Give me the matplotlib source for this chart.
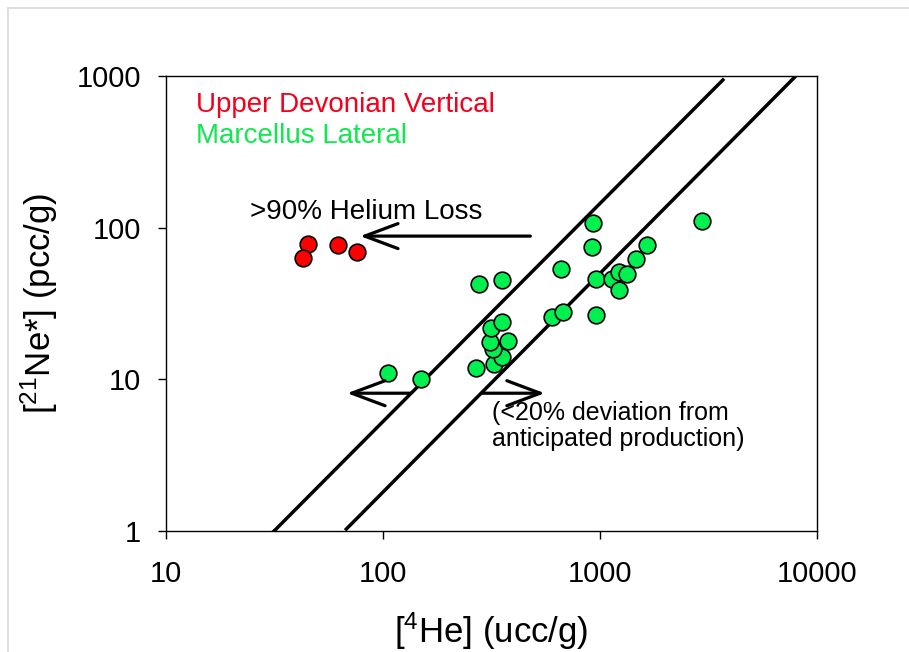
import matplotlib
matplotlib.use('Agg')
import matplotlib.pyplot as plt
from matplotlib.lines import Line2D

plt.rcParams['font.family'] = ['Liberation Sans', 'DejaVu Sans']
plt.rcParams['mathtext.fontset'] = 'custom'
plt.rcParams['mathtext.rm'] = 'Liberation Sans'

# Upper Devonian vertical well (red)
devonian_he = [45, 43, 62, 76]
devonian_ne = [78, 63.5, 77, 69.5]

# Marcellus lateral (green)
marcellus_he = [105, 150, 276, 353, 268, 326, 355, 323, 311, 378, 314, 355,
                604, 679, 662, 930, 920, 960, 960, 1132, 1231, 1340, 1231,
                1460, 1655, 2970]
marcellus_ne = [11.0, 10.0, 42.5, 45.2, 11.8, 12.6, 14.1, 15.8, 17.7, 17.9,
                21.9, 23.8, 25.7, 27.9, 53.2, 107.5, 74.8, 45.8, 26.5, 45.8,
                51.1, 49.7, 39.1, 62.0, 77.0, 110.7]

# anticipated production band (+/- 20%)
upper_line_he = [31.5, 3690]
upper_line_ne = [1, 942]
lower_line_he = [67.8, 7890]
lower_line_ne = [1.03, 980]

x_ticks = [10, 100, 1000, 10000]
y_ticks = [1, 10, 100, 1000]

fig = plt.figure(figsize=(9.09, 6.52), dpi=100)
ax = fig.add_axes([0.1826, 0.1856, 0.716, 0.6978])

ax.plot(upper_line_he, upper_line_ne, color='black', lw=2.5, zorder=2)
ax.plot(lower_line_he, lower_line_ne, color='black', lw=2.5, zorder=2)

ax.plot(marcellus_he, marcellus_ne, 'o', ms=12, mfc='#00F050', mec='black',
        mew=1.2, zorder=3)
ax.plot(devonian_he, devonian_ne, 'o', ms=12, mfc='#FF0000', mec='black',
        mew=1.2, zorder=3)

ax.set_xscale('log')
ax.set_yscale('log')
ax.set_xlim(10, 10000)
ax.set_ylim(1, 1000)
ax.set_xticks(x_ticks)
ax.set_xticklabels([str(t) for t in x_ticks])
ax.set_yticks(y_ticks)
ax.set_yticklabels([str(t) for t in y_ticks])
ax.minorticks_off()
ax.tick_params(axis='both', direction='out', length=6, width=1, labelsize=21)
ax.tick_params(axis='x', pad=15)
ax.tick_params(axis='y', pad=12)
for s in ax.spines.values():
    s.set_linewidth(1)

ax.set_xlabel(r'[$\mathregular{^{4}}$He] (ucc/g)', fontsize=25, labelpad=16)
ax.set_ylabel(r'[$\mathregular{^{21}}$Ne*] (pcc/g)', fontsize=25, labelpad=12)

ax.text(0.046, 0.9215, 'Upper Devonian Vertical', color='#F5001C',
        fontsize=20, transform=ax.transAxes, va='baseline')
ax.text(0.046, 0.853, 'Marcellus Lateral', color='#10E850',
        fontsize=20, transform=ax.transAxes, va='baseline')

arrow = dict(arrowstyle='->,head_length=1.2,head_width=0.45', lw=2.3,
             color='black', mutation_scale=20, shrinkA=0, shrinkB=0)
ax.annotate('', xy=(78.5, 88), xytext=(478, 88), arrowprops=arrow)
ax.text(24.5, 127, '>90% Helium Loss', fontsize=20, va='center', ha='left')

ax.annotate('', xy=(68.4, 8.1), xytext=(134, 8.1), arrowprops=arrow)
ax.annotate('', xy=(557, 8.1), xytext=(287, 8.1), arrowprops=arrow)
ax.text(319, 4.9, '(<20% deviation from\nanticipated production)',
        fontsize=18, va='center', ha='left', linespacing=1.1)

# faint slide frame
fig.add_artist(Line2D([8 / 909, 1], [1 - 8 / 652, 1 - 8 / 652],
                      color='#d8d8d8', lw=1.2, transform=fig.transFigure))
fig.add_artist(Line2D([8 / 909, 8 / 909], [0, 1 - 8 / 652],
                      color='#d8d8d8', lw=1.2, transform=fig.transFigure))

fig.savefig('out.png', dpi=100)
